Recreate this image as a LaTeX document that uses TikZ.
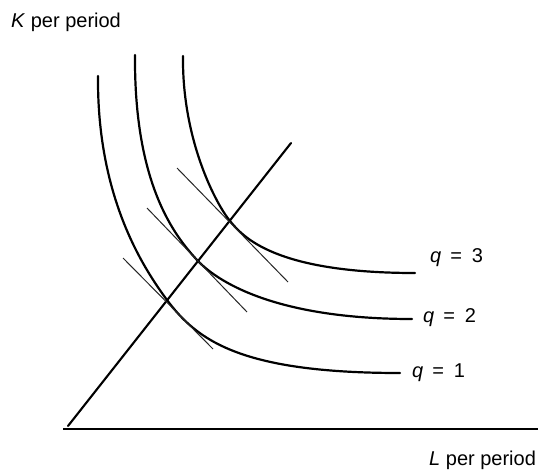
\documentclass[tikz,border=0pt]{standalone}
\usepackage{fontspec}
\setmainfont{Liberation Sans}
\begin{document}
\begin{tikzpicture}[x=1pt,y=-1pt,
  curve/.style={line width=2.2pt, line cap=round},
  tangentline/.style={line width=1pt, black!85},
  axisline/.style={line width=1.5pt},
  ray/.style={line width=2.1pt, line cap=round},
  lbl/.style={inner sep=0pt, font=\fontsize{20}{24}\selectfont}]
\useasboundingbox (0,0) rectangle (538,472);
% axis
\coordinate (ax0) at (63,429);
\coordinate (ax1) at (538,429);
\draw[axisline] (ax0) -- (ax1);
% ray
\coordinate (r0) at (68,426);
\coordinate (r1) at (291,143);
\draw[ray] (r0) -- (r1);
% isoquants (top point, tangency point, end point)
\coordinate (a1) at (98,76);  \coordinate (p1) at (167,300); \coordinate (b1) at (400,373);
\coordinate (a2) at (135,55); \coordinate (p2) at (197,260); \coordinate (b2) at (412,319);
\coordinate (a3) at (183,56); \coordinate (p3) at (230,221); \coordinate (b3) at (415,273);
\draw[curve] (a1) .. controls (97,196) and (142,266) .. (p1)
                  .. controls (197,340) and (240,373) .. (b1);
\draw[curve] (a2) .. controls (134,185) and (175,236) .. (p2)
                  .. controls (210,274) and (262,319) .. (b2);
\draw[curve] (a3) .. controls (182,140) and (216,204) .. (p3)
                  .. controls (243,237) and (275,273) .. (b3);
% tangent lines
\coordinate (t1a) at (123,258); \coordinate (t1b) at (213,349);
\coordinate (t2a) at (147,208); \coordinate (t2b) at (247,312);
\coordinate (t3a) at (177,168); \coordinate (t3b) at (288,282);
\draw[tangentline] (t1a) -- (t1b);
\draw[tangentline] (t2a) -- (t2b);
\draw[tangentline] (t3a) -- (t3b);
% labels
\node[lbl, anchor=base west] (kl) at (11,27) {\textit{K} per period};
\node[lbl, anchor=base west] (ll) at (429,465) {\textit{L} per period};
\node[lbl, anchor=base west] (q3) at (430,262) {\textit{q}\hspace{0.45em}=\hspace{0.5em}3};
\node[lbl, anchor=base west] (q2) at (423,322) {\textit{q}\hspace{0.45em}=\hspace{0.5em}2};
\node[lbl, anchor=base west] (q1) at (412,377) {\textit{q}\hspace{0.45em}=\hspace{0.5em}1};
\end{tikzpicture}
\end{document}
